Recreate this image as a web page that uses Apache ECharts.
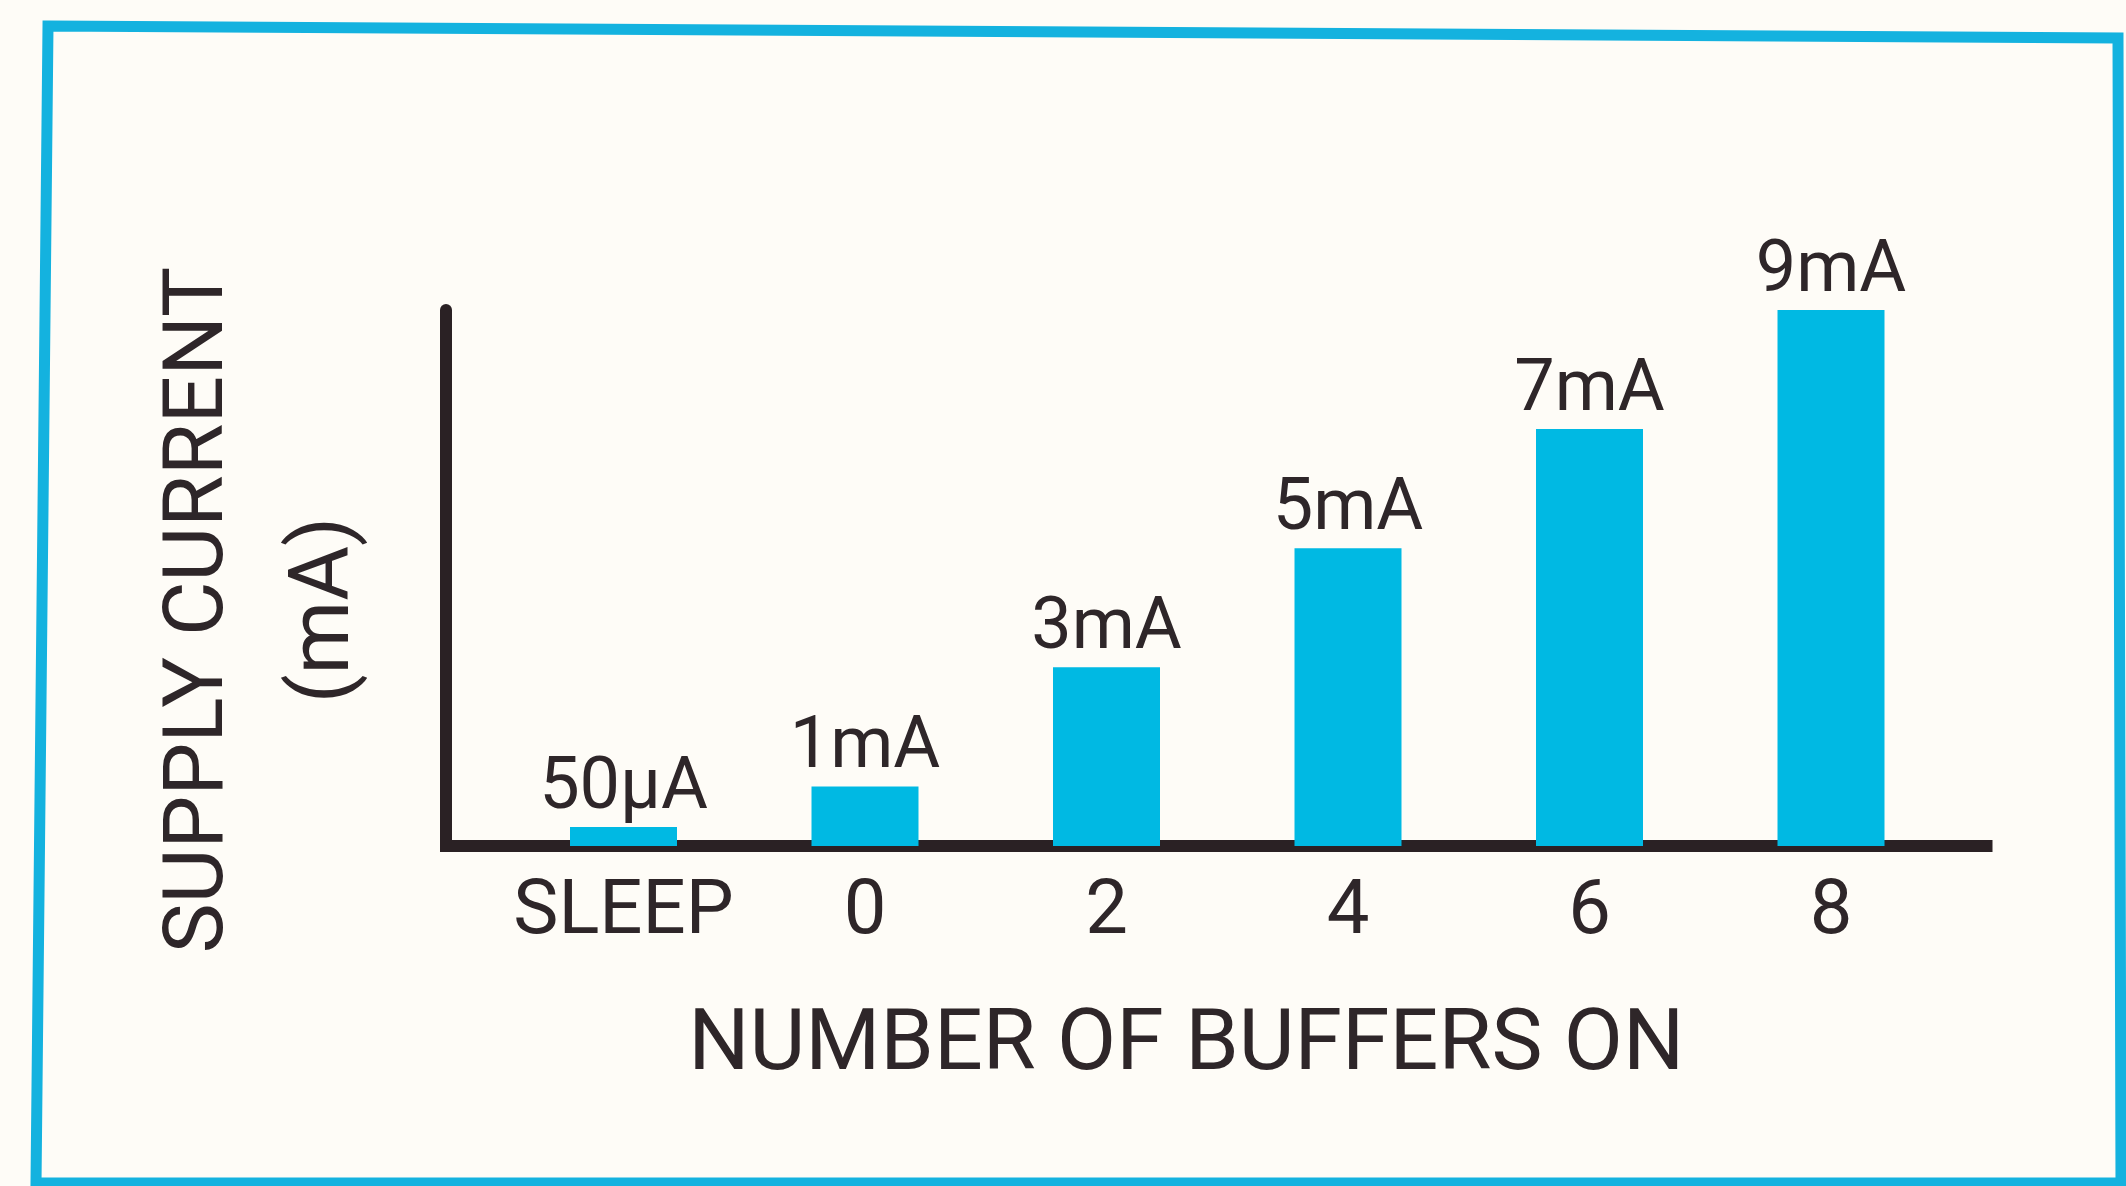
<!DOCTYPE html>
<html>
<head>
<meta charset="utf-8">
<title>Supply Current vs Number of Buffers On</title>
<script src="https://cdn.jsdelivr.net/npm/echarts@6/dist/echarts.min.js"></script>
<style>
  html, body { margin: 0; padding: 0; background: #fefcf7; }
  #chart { width: 2126px; height: 1186px; }
</style>
</head>
<body>
<div id="chart"></div>
<script>
// Operating modes along the x axis
const categories = ['SLEEP', '0', '2', '4', '6', '8'];
// Supply current for each mode, in mA (sleep is 50 µA)
const currentMA = [0.05, 1, 3, 5, 7, 9];
// Value captions printed above the bars
const valueLabels = ['50µA', '1mA', '3mA', '5mA', '7mA', '9mA'];

const FONT = "Roboto, 'DejaVu Sans Condensed', sans-serif";
const INK = '#2e2629';
const CYAN = '#00b9e3';
const FRAME = '#14b2df';
const AXIS = '#2a2124';

const chart = echarts.init(document.getElementById('chart'), null, { renderer: 'canvas' });

chart.setOption({
  backgroundColor: '#fefcf7',
  animation: false,
  grid: [
    // plotting area for the bars
    { left: 502.75, width: 1449, top: 310, height: 536 },
    // L-shaped axis frame
    { left: 446, width: 1540.5, top: 310, height: 536 }
  ],
  xAxis: [
    {
      type: 'category',
      gridIndex: 0,
      data: categories,
      boundaryGap: true,
      axisLine: { show: false },
      axisTick: { show: false },
      axisLabel: {
        interval: 0,
        margin: 30,
        fontSize: 76,
        fontFamily: FONT,
        color: INK
      }
    },
    {
      type: 'value',
      gridIndex: 1,
      min: 0,
      max: 1,
      axisLine: { show: true, lineStyle: { color: AXIS, width: 12, cap: 'square' } },
      axisTick: { show: false },
      axisLabel: { show: false },
      splitLine: { show: false },
      name: 'NUMBER OF BUFFERS ON',
      nameLocation: 'middle',
      nameGap: 158,
      nameTextStyle: {
        fontSize: 86,
        fontFamily: FONT,
        color: INK,
        padding: [0, 60, 0, 0]
      }
    }
  ],
  yAxis: [
    {
      type: 'value',
      gridIndex: 0,
      min: 0,
      max: 9,
      axisLine: { show: false },
      axisTick: { show: false },
      axisLabel: { show: false },
      splitLine: { show: false }
    },
    {
      type: 'value',
      gridIndex: 1,
      min: 0,
      max: 1,
      axisLine: { show: true, lineStyle: { color: AXIS, width: 12 } },
      axisTick: { show: false },
      axisLabel: { show: false },
      splitLine: { show: false },
      name: 'SUPPLY CURRENT\n(mA)',
      nameLocation: 'middle',
      nameGap: 56,
      nameTextStyle: {
        fontSize: 84,
        lineHeight: 126,
        fontFamily: FONT,
        color: INK,
        align: 'center',
        padding: [0, 64, 0, 0]
      }
    }
  ],
  series: [
    {
      type: 'bar',
      xAxisIndex: 0,
      yAxisIndex: 0,
      data: currentMA,
      barWidth: 107,
      barMinHeight: 19,
      itemStyle: { color: CYAN },
      label: {
        show: true,
        position: 'top',
        distance: 1,
        fontSize: 72,
        fontFamily: FONT,
        color: INK,
        formatter: (p) => valueLabels[p.dataIndex]
      }
    }
  ],
  graphic: [
    {
      type: 'polygon',
      z: 100,
      shape: { points: [[48, 26], [2118, 38], [2121, 1183], [36, 1183]] },
      style: { fill: 'none', stroke: FRAME, lineWidth: 11 }
    }
  ]
});
</script>
</body>
</html>
